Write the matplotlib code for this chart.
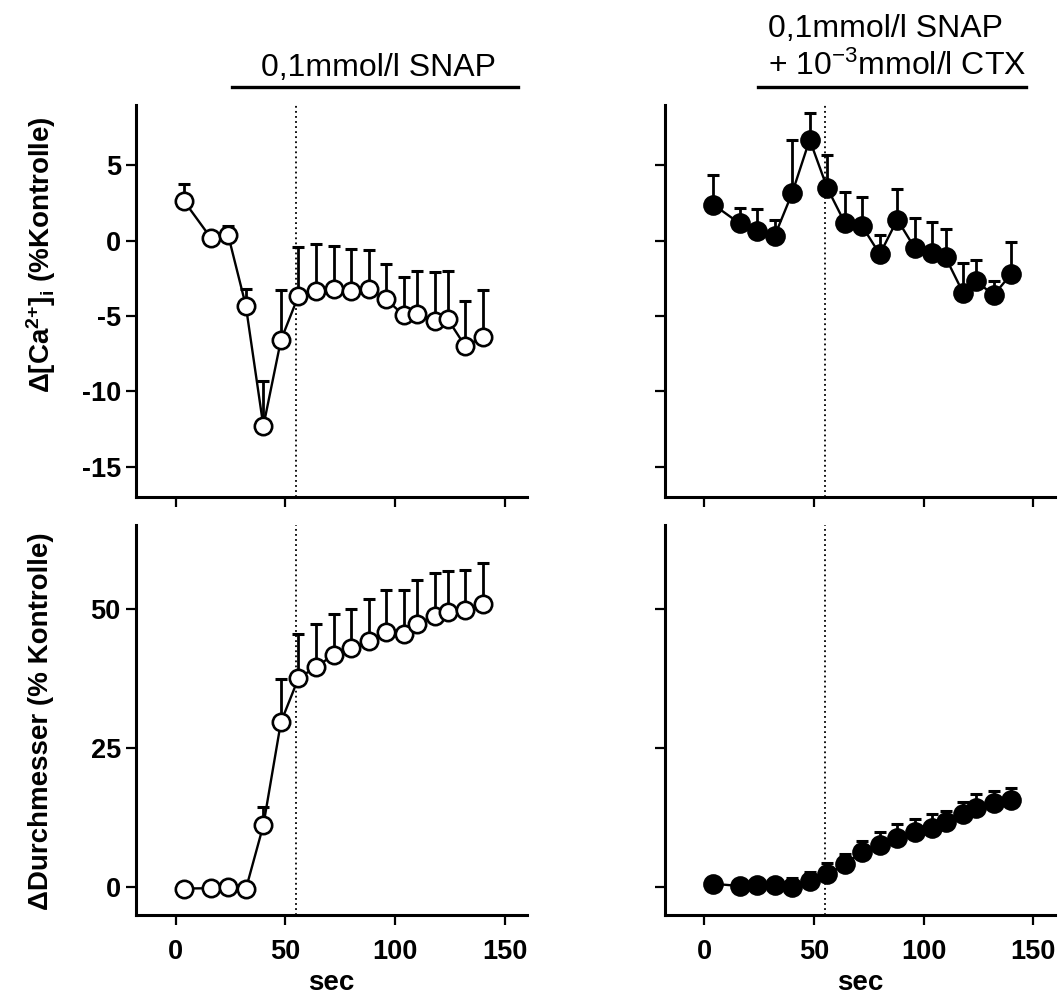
import matplotlib
matplotlib.use("Agg")
import matplotlib.pyplot as plt

plt.rcParams['font.family'] = ['Liberation Sans', 'DejaVu Sans']
plt.rcParams['axes.unicode_minus'] = False
plt.rcParams['mathtext.fontset'] = 'custom'
plt.rcParams['mathtext.rm'] = 'Liberation Sans:bold'
plt.rcParams['mathtext.it'] = 'Liberation Sans:bold'
plt.rcParams['mathtext.bf'] = 'Liberation Sans:bold'
plt.rcParams['mathtext.sf'] = 'Liberation Sans'

# time points (sec)
sec = [4, 16, 24, 32, 40, 48, 56, 64, 72, 80, 88, 96, 104, 110, 118, 124, 132, 140]

# delta Ca2+ (% Kontrolle), mean + upper SEM
ca_snap = [2.6, 0.2, 0.35, -4.3, -12.3, -6.6, -3.65, -3.35, -3.2, -3.35, -3.2, -3.9,
           -4.95, -4.85, -5.35, -5.2, -7.0, -6.4]
ca_snap_err = [1.15, 0.1, 0.6, 1.1, 3.0, 3.35, 3.25, 3.1, 2.85, 2.8, 2.55, 2.35,
               2.55, 2.85, 3.3, 3.2, 3.0, 3.15]
ca_ctx = [2.4, 1.15, 0.65, 0.3, 3.15, 6.7, 3.5, 1.2, 0.95, -0.9, 1.4, -0.5,
          -0.8, -1.1, -3.45, -2.7, -3.6, -2.2]
ca_ctx_err = [1.95, 1.0, 1.45, 1.05, 3.5, 1.75, 2.2, 2.05, 1.95, 1.25, 2.0, 2.0,
              2.05, 1.85, 1.95, 1.4, 0.9, 2.1]

# delta Durchmesser (% Kontrolle)
dia_snap = [-0.25, -0.2, 0.05, -0.4, 11.1, 29.6, 37.5, 39.5, 41.7, 42.9, 44.1, 45.7,
            45.5, 47.2, 48.7, 49.4, 49.7, 50.9]
dia_snap_err = [0, 0, 0, 0, 3.35, 7.8, 7.9, 7.7, 7.4, 7.1, 7.6, 7.6,
                7.8, 7.9, 7.6, 7.3, 7.3, 7.3]
dia_ctx = [0.6, 0.2, 0.3, 0.3, 0.0, 1.1, 2.3, 4.1, 6.35, 7.55, 8.85, 9.85,
           10.65, 11.75, 13.05, 14.25, 15.15, 15.55]
dia_ctx_err = [0, 0, 0, 0, 1.7, 1.7, 2.1, 1.9, 2.0, 2.4, 2.4, 2.3,
               2.45, 1.95, 2.2, 2.45, 2.05, 2.15]

t_start = 55  # SNAP application (dotted line)

fig = plt.figure(figsize=(10.63, 9.98), dpi=100)

ax_tl = fig.add_axes([0.128, 0.502, 0.3675, 0.3928])
ax_tr = fig.add_axes([0.6256, 0.502, 0.367, 0.3928])
ax_bl = fig.add_axes([0.128, 0.0832, 0.3675, 0.3908])
ax_br = fig.add_axes([0.6256, 0.0832, 0.367, 0.3908])


def draw_panel(ax, y, err, filled):
    face = 'black' if filled else 'white'
    ms = 13 if filled else 12.5
    ax.errorbar(sec, y, yerr=[[0] * len(err), err], fmt='none', ecolor='black',
                elinewidth=2, capsize=4, capthick=2.2, zorder=2)
    ax.plot(sec, y, color='black', lw=1.7, marker='o', ms=ms, mfc=face,
            mec='black', mew=1.9, zorder=3, clip_on=False)
    ax.axvline(t_start, color='black', lw=1.3, ls=(0, (1, 1.8)), zorder=1)
    ax.set_xlim(-18, 160)
    ax.set_xticks([0, 50, 100, 150])
    for s in ['top', 'right']:
        ax.spines[s].set_visible(False)
    for s in ['left', 'bottom']:
        ax.spines[s].set_linewidth(2.2)
    ax.tick_params(direction='out', length=7, width=1.6, labelsize=19.5)
    ax.tick_params(axis='x', pad=10)
    ax.tick_params(axis='y', pad=4)
    for lab in ax.get_xticklabels() + ax.get_yticklabels():
        lab.set_fontweight('bold')


draw_panel(ax_tl, ca_snap, ca_snap_err, False)
draw_panel(ax_tr, ca_ctx, ca_ctx_err, True)
draw_panel(ax_bl, dia_snap, dia_snap_err, False)
draw_panel(ax_br, dia_ctx, dia_ctx_err, True)

for ax in [ax_tl, ax_tr]:
    ax.set_ylim(-17, 9)
    ax.set_yticks([-15, -10, -5, 0, 5])
    ax.tick_params(labelbottom=False)
for ax in [ax_bl, ax_br]:
    ax.set_ylim(-5, 65)
    ax.set_yticks([0, 25, 50])
    ax.set_xlabel('sec', fontsize=20, fontweight='bold', labelpad=4)
for ax in [ax_tl, ax_bl]:
    for lab in ax.get_yticklabels():
        lab.set_fontweight('bold')
for ax in [ax_tr, ax_br]:
    ax.tick_params(labelleft=False)

# y labels
fig.text(0.0386, 0.7445, 'Δ[Ca$^{2{+}}$]$_{i}$ (%Kontrolle)', rotation=90,
         ha='center', va='center', fontsize=20, fontweight='bold')
fig.text(0.0386, 0.2776, 'ΔDurchmesser (% Kontrolle)', rotation=90,
         ha='center', va='center', fontsize=20, fontweight='bold')

# treatment bars above the top panels
tr = ax_tl.get_xaxis_transform()
ax_tl.plot([25.5, 156], [1.046, 1.046], color='black', lw=2.4, transform=tr, clip_on=False)
ax_tl.text(92.4, 1.074, '0,1mmol/l SNAP', transform=tr, ha='center', va='baseline',
           fontsize=23)

tr = ax_tr.get_xaxis_transform()
ax_tr.plot([24.5, 146.6], [1.046, 1.046], color='black', lw=2.4, transform=tr, clip_on=False)
ax_tr.text(29.1, 1.173, '0,1mmol/l SNAP', transform=tr, ha='left', va='baseline',
           fontsize=23)
ax_tr.text(29.1, 1.0765, '+ 10$^{\\mathsf{-3}}$mmol/l CTX', transform=tr, ha='left',
           va='baseline', fontsize=23)

fig.savefig('out.png', dpi=100)
